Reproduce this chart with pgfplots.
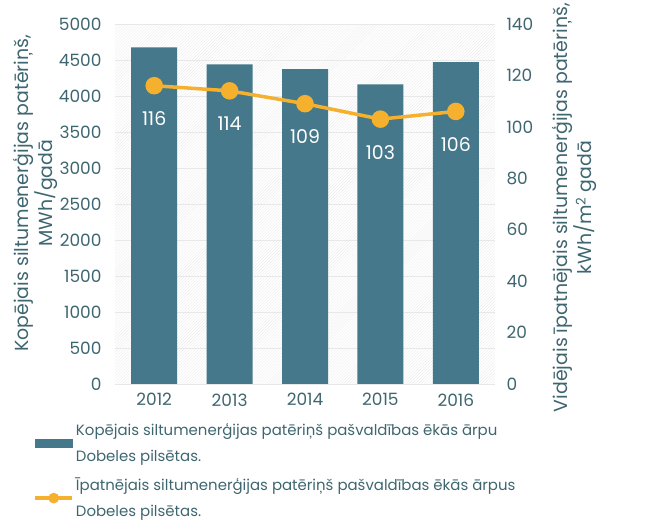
\documentclass[border=0pt]{standalone}
\usepackage{pgfplots}
\pgfplotsset{compat=1.18}
\usepackage{fontspec}
\setmainfont{Poppins}
\usetikzlibrary{patterns}
\definecolor{barcol}{RGB}{68,120,138}
\definecolor{linecol}{RGB}{245,176,46}
\definecolor{tcol}{RGB}{62,102,112}
\definecolor{gridcol}{RGB}{232,232,232}
\begin{document}
\begin{tikzpicture}
\pgfplotsset{
  every axis/.append style={
    scale only axis, width=380bp, height=360bp,
    xmin=-0.52, xmax=4.52,
    /pgf/number format/assume math mode=true,
    tick label style={font=\fontsize{17}{20}\selectfont, text=tcol},
    label style={font=\fontsize{19}{20}\selectfont, text=tcol},
    major tick length=0pt,
  }
}
\begin{axis}[name=ax,
  axis y line*=left, axis x line=none,
  ymin=0, ymax=5000, ytick={0,500,...,5000},
  ymajorgrids, grid style={gridcol, line width=0.8bp},
  axis background/.style={pattern=north east lines, pattern color=gray!15},
  y axis line style={draw=none},
  yticklabel style={xshift=-10bp},
  ylabel={Kopējais siltumenerģijas patēriņš,\\MWh/gadā},
  ylabel style={align=center, anchor=center, at={(-0.21,0.53)}},
  /pgf/number format/1000 sep={},
]
\addplot[ybar, bar width=46bp, fill=barcol, draw=none] coordinates {
  (0,4675) (1,4440) (2,4372) (3,4162) (4,4469)};
\end{axis}
\begin{axis}[
  axis x line*=bottom, axis y line*=right,
  x axis line style={draw=none}, y axis line style={draw=none},
  ymin=0, ymax=140, ytick={0,20,...,140},
  yticklabel style={xshift=8bp},
  xtick={0,...,4}, xticklabels={2012,2013,2014,2015,2016},
  xticklabel style={yshift=-6bp},
  ylabel={Vidējais īpatnējais siltumenerģijas patēriņš,\\kWh/m\textsuperscript{2} gadā},
  ylabel style={align=center, anchor=center, at={(1.21,0.49)}},
  legend style={at={(-0.215,-0.104)}, anchor=north west, draw=none, fill=none,
    font=\fontsize{15}{22}\selectfont, text=tcol,
    cells={anchor=west, align=left}, row sep=11bp, inner sep=0pt},
  legend cell align=left,
]
\addlegendimage{legend image code/.code={\fill[barcol] (0bp,-4bp) rectangle (37bp,4bp);}}
\addlegendentry{Kopējais siltumenerģijas patēriņš pašvaldības ēkās ārpu\\[4bp]Dobeles pilsētas.}
\addplot[linecol, line width=3.5bp, mark=*, mark size=7bp,
  nodes near coords, every node near coord/.append style={text=white, font=\fontsize{19}{22}\selectfont, anchor=center, yshift=-33bp},
  legend image code/.code={\draw[linecol, line width=3.5bp] (0bp,0) -- (37bp,0); \fill[linecol] (18.5bp,0) circle (3.5bp);}
] coordinates {(0,116) (1,114) (2,109) (3,103) (4,106)};
\addlegendentry{Īpatnējais siltumenerģijas patēriņš pašvaldības ēkās ārpus\\[4bp]Dobeles pilsētas.}
\end{axis}
\pgfresetboundingbox
\path[use as bounding box] (ax.south west) ++(-115bp,-143bp) rectangle ++(645bp,527bp);
\end{tikzpicture}
\end{document}
